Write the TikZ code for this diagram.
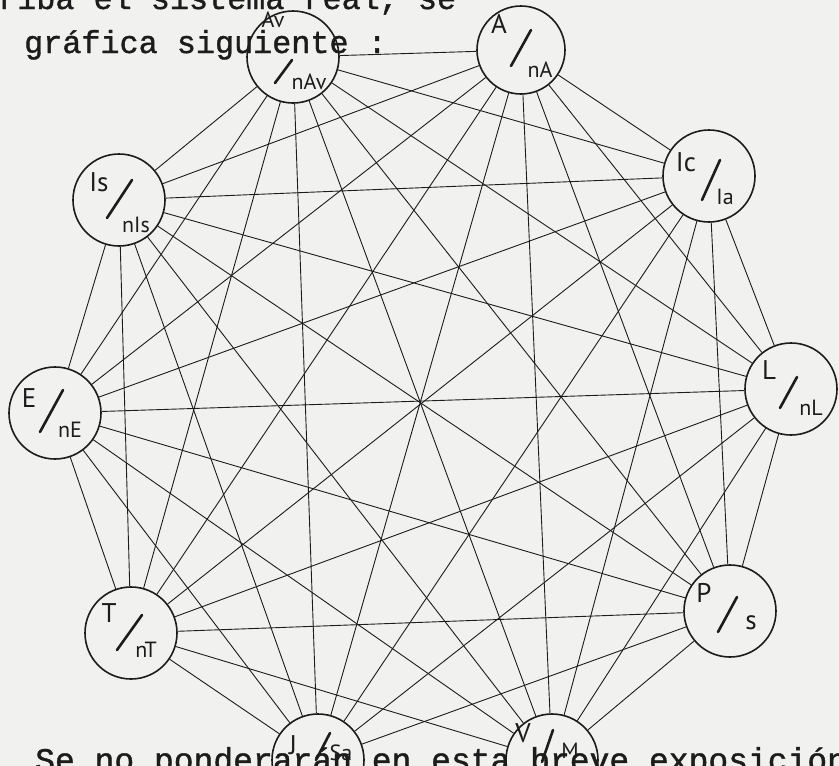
\documentclass[tikz,border=0pt]{standalone}
\usepackage{fontspec}
\setmainfont{Liberation Serif}
\newfontfamily\twfont[FakeBold=1.2]{Liberation Mono}
\newfontfamily\handfont{PT Sans}
\usetikzlibrary{calc}
\definecolor{paper}{HTML}{F1F1F0}
\definecolor{ink}{HTML}{1C1C1C}
\begin{document}
\begin{tikzpicture}[x=1pt,y=-1pt,
  gc/.style={circle,draw=ink,line width=1.6pt,fill=paper,minimum size=92pt,inner sep=0pt},
  gcs/.style={gc,minimum size=88pt},
  edge/.style={draw=ink,line width=0.9pt},
  slash/.style={draw=ink,line width=2.6pt,line cap=round},
  numlab/.style={font=\handfont\fontsize{27}{27}\selectfont,text=ink,inner sep=0pt},
  denlab/.style={font=\handfont\fontsize{22}{22}\selectfont,text=ink,inner sep=0pt},
  twtext/.style={font=\twfont\fontsize{31.8}{38}\selectfont,text=ink,inner sep=0pt,anchor=base west}]
\fill[paper] (0,0) rectangle (839,766);
\useasboundingbox (0,0) rectangle (839,766);
\begin{scope}
\clip (0,0) rectangle (839,766);
% nodes
\node[gc]  (av) at (293,57) {};
\node[gcs] (a)  at (521,50) {};
\node[gc]  (ic) at (709,176) {};
\node[gc]  (l)  at (791,389) {};
\node[gc]  (p)  at (730,611) {};
\node[gc]  (v)  at (552,760) {};
\node[gc]  (j)  at (318,760) {};
\node[gc]  (t)  at (131,633) {};
\node[gc]  (e)  at (55,413) {};
\node[gc]  (is) at (119,200) {};
% edges
\foreach \u/\w in {av/a, av/ic, av/l, av/p, av/v, av/j, av/t, av/e, av/is,
  a/ic, a/l, a/p, a/v, a/j, a/t, a/e, a/is,
  ic/l, ic/p, ic/v, ic/j, ic/t, ic/e, ic/is,
  l/p, l/v, l/j, l/t, l/e, l/is,
  p/v, p/j, p/t, p/e, p/is,
  v/t, v/e, v/is,
  j/t, j/e, j/is,
  t/e, t/is,
  e/is}
  \draw[edge] (\u) -- (\w);
% labels and slashes
\node[numlab,font=\handfont\fontsize{22}{22}\selectfont] at ($(av)+(-20,-37)$) {Av};
\draw[slash] ($(av)+(-18,26)$) -- ($(av)+(-1,3)$);
\node[denlab] at ($(av)+(16,25)$) {nAv};

\node[numlab] at ($(a)+(-22,-26)$) {A};
\draw[slash] ($(a)+(-10,16)$) -- ($(a)+(10,-20)$);
\node[denlab] at ($(a)+(19,20)$) {nA};

\node[numlab] at ($(ic)+(-23,-14)$) {Ic};
\draw[slash] ($(ic)+(-7,24)$) -- ($(ic)+(11,-16)$);
\node[denlab] at ($(ic)+(16,21)$) {Ia};

\node[numlab] at ($(is)+(-20,-18)$) {Is};
\draw[slash] ($(is)+(-12,18)$) -- ($(is)+(13,-20)$);
\node[denlab] at ($(is)+(17,25)$) {nIs};

\node[numlab] at ($(e)+(-26,-15)$) {E};
\draw[slash] ($(e)+(-15,19)$) -- ($(e)+(8,-23)$);
\node[denlab] at ($(e)+(15,17)$) {nE};

\node[numlab] at ($(l)+(-22,-19)$) {L};
\draw[slash] ($(l)+(-11,19)$) -- ($(l)+(6,-12)$);
\node[denlab] at ($(l)+(20,19)$) {nL};

\node[numlab] at ($(t)+(-22,-20)$) {T};
\draw[slash] ($(t)+(-14,17)$) -- ($(t)+(11,-18)$);
\node[denlab] at ($(t)+(15,17)$) {nT};

\node[numlab] at ($(p)+(-26,-18)$) {P};
\draw[slash] ($(p)+(-12,21)$) -- ($(p)+(7,-14)$);
\node[numlab] at ($(p)+(21,12)$) {s};

\node[numlab] at ($(j)+(-25,-15)$) {J};
\draw[slash] ($(j)+(-2,0)$) -- ($(j)+(12,-27)$);
\node[denlab] at ($(j)+(23,-7)$) {Sa};

\node[numlab] at ($(v)+(-29,-27)$) {V};
\draw[slash] ($(v)+(-10,2)$) -- ($(v)+(1,-30)$);
\node[denlab] at ($(v)+(18,-9)$) {M};
% typed text
\node[twtext] at (-2,9) {riba el sistema real, se};
\node[twtext] at (24,53) {gráfica siguiente :};
\node[twtext,font=\twfont\fontsize{33}{38}\selectfont] at (35,771) {Se no ponderarán en esta breve exposición};
\end{scope}
\end{tikzpicture}
\end{document}
